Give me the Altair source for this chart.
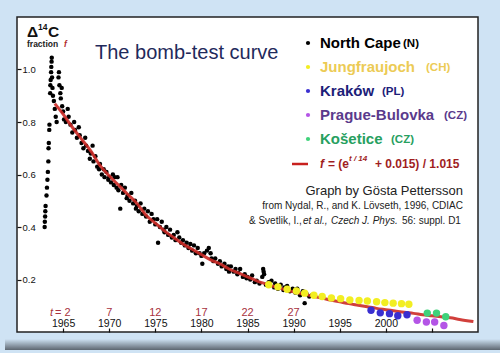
import altair as alt
import pandas as pd

# ---------------- data ----------------
# North Cape (black)
nc_year = [1963.0, 1963.02, 1963.05, 1963.07, 1963.1, 1963.2, 1963.25, 1963.3, 1963.35, 1963.4,
           1963.42, 1963.45, 1963.5, 1963.52, 1963.6, 1963.62, 1963.65, 1963.7, 1963.72, 1963.75,
           1963.77, 1963.8, 1963.85, 1963.9, 1964.0, 1964.1, 1964.2, 1964.3, 1964.5, 1964.55,
           1964.6, 1964.7, 1964.75, 1964.85, 1964.9,
           1965.0, 1965.1, 1965.3, 1965.5, 1965.6, 1965.8,
           1966.0, 1966.2, 1966.3, 1966.5, 1966.7, 1966.8,
           1967.0, 1967.2, 1967.4, 1967.5, 1967.7, 1967.9,
           1968.0, 1968.2, 1968.3, 1968.5, 1968.7, 1968.9,
           1969.0, 1969.2, 1969.4, 1969.5, 1969.7, 1969.9,
           1970.0, 1970.2, 1970.4, 1970.5, 1970.6, 1970.8, 1970.9,
           1971.0, 1971.2, 1971.3, 1971.5, 1971.7, 1971.9,
           1972.0, 1972.2, 1972.4, 1972.6, 1972.8, 1972.9,
           1973.0, 1973.2, 1973.4, 1973.6, 1973.8,
           1974.0, 1974.2, 1974.4, 1974.6, 1974.8,
           1975.0, 1975.2, 1975.3, 1975.5, 1975.7, 1975.9,
           1976.0, 1976.2, 1976.4, 1976.6, 1976.8,
           1977.0, 1977.2, 1977.4, 1977.6, 1977.8,
           1978.0, 1978.2, 1978.4, 1978.6, 1978.8,
           1979.0, 1979.2, 1979.4, 1979.6, 1979.8,
           1980.0, 1980.1, 1980.3, 1980.6, 1980.8, 1981.0, 1981.1,
           1981.3, 1981.5, 1981.8,
           1982.0, 1982.2, 1982.5, 1982.7, 1982.9,
           1983.0, 1983.2, 1983.5, 1983.7, 1983.9,
           1984.0, 1984.2, 1984.5, 1984.7, 1984.9,
           1985.0, 1985.3, 1985.5, 1985.8,
           1986.0, 1986.3, 1986.6, 1986.7, 1986.75, 1986.8,
           1987.0, 1987.3, 1987.6, 1987.9,
           1988.0, 1988.3, 1988.6, 1988.9,
           1989.0, 1989.3, 1989.6, 1989.9,
           1990.2, 1990.4, 1990.7, 1991.0, 1991.2, 1991.4, 1991.7, 1992.0]
nc_f = [0.40, 0.42, 0.44, 0.46, 0.48, 0.52, 0.55, 0.58, 0.61, 0.65,
        0.70, 0.72, 0.77, 0.79, 0.91, 0.94, 0.96, 0.99, 1.01, 1.03,
        1.045, 0.97, 0.93, 0.90, 0.88, 0.85, 0.82, 0.80, 0.97, 0.99,
        0.94, 0.91, 0.89, 0.93, 0.86,
        0.84, 0.81, 0.80, 0.85, 0.82, 0.79,
        0.76, 0.80, 0.77, 0.74, 0.78, 0.75,
        0.72, 0.70, 0.74, 0.71, 0.69, 0.66,
        0.68, 0.71, 0.65, 0.67, 0.63, 0.62,
        0.64, 0.60, 0.62, 0.59, 0.61, 0.58,
        0.59, 0.57, 0.60, 0.56, 0.59, 0.55, 0.59,
        0.54, 0.47, 0.56, 0.53, 0.55, 0.51,
        0.52, 0.50, 0.53, 0.49, 0.50, 0.47,
        0.48, 0.46, 0.49, 0.45, 0.47,
        0.44, 0.46, 0.42, 0.45, 0.43,
        0.41, 0.43, 0.34, 0.40, 0.42, 0.39,
        0.38, 0.40, 0.37, 0.39, 0.36,
        0.37, 0.35, 0.38, 0.36, 0.34,
        0.35, 0.33, 0.34, 0.32, 0.335,
        0.31, 0.33, 0.30, 0.32, 0.30,
        0.29, 0.26, 0.30, 0.31, 0.32, 0.30, 0.28,
        0.27, 0.28, 0.26,
        0.27, 0.25, 0.26, 0.24, 0.25,
        0.23, 0.25, 0.23, 0.24, 0.22,
        0.225, 0.24, 0.21, 0.22, 0.205,
        0.21, 0.20, 0.215, 0.19,
        0.195, 0.185, 0.21, 0.24, 0.23, 0.22,
        0.18, 0.19, 0.195, 0.17,
        0.185, 0.165, 0.18, 0.16,
        0.17, 0.175, 0.155, 0.165,
        0.15, 0.165, 0.14, 0.155, 0.11, 0.145, 0.135, 0.14]

# Jungfraujoch (yellow)
jf_year = [1987.3, 1988.3, 1989.3, 1990.3, 1991.2, 1992.2, 1993.1, 1994.1, 1995.1,
           1996.1, 1997.1, 1998.0, 1999.0, 1999.9, 2000.8, 2001.7, 2002.5]
jf_f = [0.18, 0.172, 0.163, 0.156, 0.148, 0.14, 0.135, 0.13, 0.127,
        0.122, 0.12, 0.118, 0.115, 0.112, 0.11, 0.108, 0.106]
# Kraków (blue)
kr_year = [1998.4, 1999.4, 2000.4, 2001.3, 2002.3]
kr_f = [0.083, 0.073, 0.070, 0.062, 0.066]
# Prague-Bulovka (purple)
pb_year = [2003.4, 2004.4, 2005.3, 2006.3]
pb_f = [0.045, 0.038, 0.038, 0.025]
# Košetice (green)
ko_year = [2004.5, 2005.5, 2006.5]
ko_f = [0.072, 0.072, 0.058]

# fitted curve
curve_year = [1964.1, 1965, 1966, 1967, 1968, 1969, 1970, 1971, 1972, 1973, 1974, 1975, 1976,
              1977, 1978, 1979, 1980, 1981, 1982, 1983, 1984, 1985, 1986, 1987, 1988, 1989,
              1990, 1991, 1992, 1993, 1994, 1995, 1996, 1997, 1998, 1999, 2000, 2001, 2002,
              2003, 2004, 2005, 2006, 2007, 2008, 2009.5]
curve_f = [0.87, 0.83, 0.78, 0.735, 0.69, 0.635, 0.595, 0.56, 0.525, 0.49, 0.445, 0.415, 0.385,
           0.36, 0.335, 0.315, 0.295, 0.275, 0.26, 0.24, 0.225, 0.21, 0.195, 0.183, 0.172, 0.162,
           0.153, 0.145, 0.137, 0.13, 0.122, 0.115, 0.108, 0.102, 0.096, 0.09, 0.085, 0.08, 0.075,
           0.071, 0.066, 0.062, 0.058, 0.054, 0.048, 0.04]

year_ticks = [1965, 1970, 1975, 1980, 1985, 1990, 1995, 2000, 2005]
t_years = [1970, 1975, 1980, 1985, 1990]
t_labels = ["7", "12", "17", "22", "27"]
f_ticks = [0.2, 0.4, 0.6, 0.8, 1.0]

legend_names = ["North Cape", "Jungfraujoch", "Kraków", "Prague-Bulovka", "Košetice"]
legend_suffix = ["(N)", "(CH)", "(PL)", "(CZ)", "(CZ)"]
legend_text_colors = ["#000000", "#eccb55", "#1c2078", "#5a3a8c", "#27a060"]
point_colors = ["#000000", "#f2ee22", "#3a2fd0", "#b455e6", "#3fd27a"]

# layout of the hand-built legend (pixel offsets inside the plot)
suffix_x = [386, 409, 365, 427, 374]

FONT = "Liberation Sans"

# ---------------- tables ----------------
nc = pd.DataFrame({"year": nc_year, "f": nc_f})
col = pd.concat([
    pd.DataFrame({"year": jf_year, "f": jf_f, "c": point_colors[1]}),
    pd.DataFrame({"year": kr_year, "f": kr_f, "c": point_colors[2]}),
    pd.DataFrame({"year": pb_year, "f": pb_f, "c": point_colors[3]}),
    pd.DataFrame({"year": ko_year, "f": ko_f, "c": point_colors[4]}),
], ignore_index=True)
curve = pd.DataFrame({"year": curve_year, "f": curve_f})
tlab = pd.DataFrame({"year": t_years, "t": t_labels})
leg = pd.DataFrame({"idx": list(range(5)), "name": legend_names, "sfx": legend_suffix,
                    "tc": legend_text_colors, "pc": point_colors, "sx": suffix_x})
one = pd.DataFrame({"a": [0]})

xs = alt.Scale(domain=[1960, 2010], nice=False, zero=False)
ys = alt.Scale(domain=[0, 1.2], nice=False, zero=False)

x_axis = alt.Axis(values=year_ticks, format="d", title=None, grid=False, domain=False,
                  tickSize=4, tickColor="#111", tickWidth=1.2, offset=-4,
                  labelPadding=-5.5, labelBaseline="alphabetic", labelFont=FONT,
                  labelFontSize=10.5, labelColor="#111", labelFlush=False,
                  labelExpr="datum.value == 2005 ? '' : datum.label")
y_axis = alt.Axis(values=f_ticks, format=".1f", title=None, grid=False, domain=False,
                  tickSize=4, tickColor="#111", tickWidth=1.2, offset=-4,
                  labelPadding=-5, labelAlign="left", labelFont=FONT, labelFontSize=9.5,
                  labelColor="#111", labelFlush=False)

black = alt.Chart(nc).mark_circle(size=20, color="#000", opacity=1).encode(
    x=alt.X("year:Q", scale=xs, axis=x_axis),
    y=alt.Y("f:Q", scale=ys, axis=y_axis),
)
line = alt.Chart(curve).mark_line(color="#cc2a26", strokeWidth=3, opacity=0.9,
                                  interpolate="monotone").encode(x="year:Q", y="f:Q")
colored = alt.Chart(col).mark_circle(size=55, opacity=1).encode(
    x="year:Q", y="f:Q", color=alt.Color("c:N", scale=None))

tl = alt.Chart(tlab).mark_text(font=FONT, fontSize=11, color="#a8323e",
                               baseline="alphabetic").encode(
    x="year:Q", y=alt.value(299), text="t:N")


def txt(s, x, y, size, color="#111", weight="normal", style="normal", align="left"):
    return alt.Chart(one).mark_text(text=s, font=FONT, fontSize=size, color=color,
                                    fontWeight=weight, fontStyle=style, align=align,
                                    baseline="alphabetic").encode(
        x=alt.value(x), y=alt.value(y))


annots = [
    txt("The bomb-test curve", 78, 42, 20, color="#1f2a5c"),
    txt("Δ", 10, 20, 15.5, weight="bold"),
    txt("14", 21, 13, 8.5, weight="bold"),
    txt("C", 31, 20, 15.5, weight="bold"),
    txt("fraction", 10, 30, 8.5, weight="bold", color="#222"),
    txt("f", 47, 30, 8.5, weight="bold", style="italic", color="#b0282a"),
    txt("Graph by Gösta Pettersson", 446, 178, 13, color="#222", align="right"),
    txt("from Nydal, R., and K. Lövseth, 1996, CDIAC", 446, 192, 10, color="#222", align="right"),
    txt("& Svetlik, I.,", 232, 207, 10, color="#222"),
    txt("et al.,", 286, 207, 10, color="#222", style="italic"),
    txt("Czech J. Phys.", 314, 207, 10, color="#222", style="italic"),
    txt("56: suppl. D1", 385, 207, 10, color="#222"),
    # t labels under the curve, first one with italic t
    txt("t", 33, 299, 11, color="#a8323e", style="italic"),
    txt("= 2", 38, 299, 11, color="#a8323e"),
    # formula legend entry
    txt("f", 303, 151, 12, color="#a01e1e", weight="bold", style="italic"),
    txt("= (e", 311, 151, 12, color="#a01e1e", weight="bold"),
    txt("t / 14", 332, 144, 8, color="#a01e1e", weight="bold", style="italic"),
    txt("+ 0.015) / 1.015", 358, 151, 12, color="#a01e1e", weight="bold"),
]

formula_rule = alt.Chart(one).mark_rule(color="#c8201e", strokeWidth=2.5).encode(
    x=alt.value(275), x2=alt.value(291), y=alt.value(147))

leg_base = alt.Chart(leg).transform_calculate(ly="26 + 24 * datum.idx")
leg_dots = leg_base.mark_circle(size=18, opacity=1).encode(
    x=alt.value(291), y=alt.Y("ly:Q", scale=None), color=alt.Color("pc:N", scale=None))
leg_names = leg_base.mark_text(font=FONT, fontSize=15, fontWeight="bold", align="left",
                               baseline="middle").encode(
    x=alt.value(303), y=alt.Y("ly:Q", scale=None), text="name:N",
    color=alt.Color("tc:N", scale=None))
leg_sfx = leg_base.mark_text(font=FONT, fontSize=11.5, fontWeight="bold", align="left",
                             baseline="middle", dy=1).encode(
    x=alt.X("sx:Q", scale=None), y=alt.Y("ly:Q", scale=None), text="sfx:N",
    color=alt.Color("tc:N", scale=None))

# slide shadow under the white panel
shadow = alt.Chart(one).mark_rect(
    fill=alt.Gradient(gradient="linear",
                      stops=[alt.GradientStop(offset=0, color="#cfe3f4"),
                             alt.GradientStop(offset=1, color="#5d6670")],
                      x1=0, y1=0, x2=0, y2=1)).encode(
    x=alt.value(-12), x2=alt.value(483), y=alt.value(322), y2=alt.value(333))

chart = alt.layer(
    shadow, black, line, colored, tl, formula_rule, leg_dots, leg_names, leg_sfx, *annots
).properties(
    width=461, height=315, background="#cfe3f4",
    padding={"left": 17, "top": 17, "right": 22, "bottom": 21},
    autosize=alt.AutoSizeParams(type="none"),
).configure_view(fill="white", stroke="#222", strokeWidth=1.5)

chart.save("out.html", embed_options={"renderer": "svg", "actions": False})
